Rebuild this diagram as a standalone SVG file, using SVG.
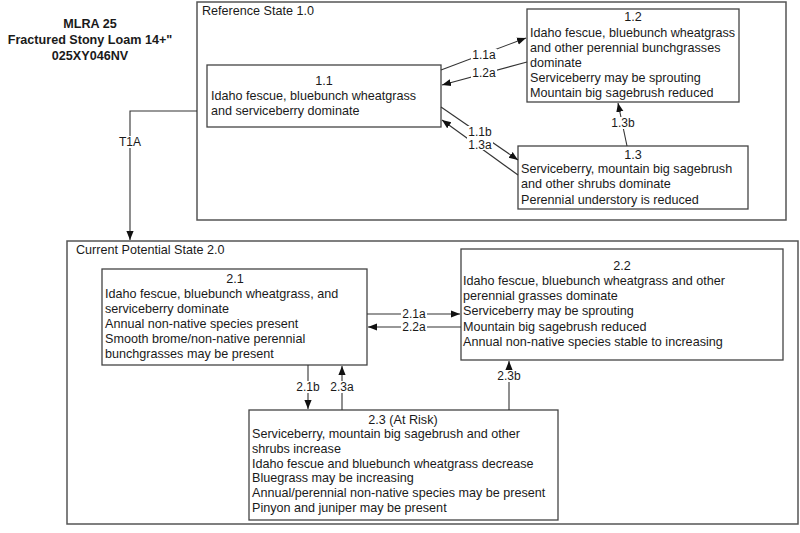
<svg xmlns="http://www.w3.org/2000/svg" width="800" height="533" viewBox="0 0 800 533">
<defs>
<marker id="ah" viewBox="0 0 10 10" refX="10" refY="5" markerWidth="9" markerHeight="9" markerUnits="userSpaceOnUse" orient="auto">
<path d="M0,1 L10,5 L0,9 Z" fill="#111"/>
</marker>
<style>
text{font-family:"Liberation Sans",Arial,sans-serif;font-size:12.6px;fill:#1a1a1a}
.hd{font-weight:bold;text-anchor:middle}
.st{fill:#fff;stroke:#555;stroke-width:1.5}
.bx{fill:#fff;stroke:#444;stroke-width:1.3}
.c{text-anchor:middle}
.cn{fill:none;stroke:#333;stroke-width:1.1;marker-end:url(#ah)}
.lb{text-anchor:middle;font-size:12px}
.bg{fill:#fff}
</style>
</defs>
<rect width="800" height="533" fill="#fff"/>
<g id="header">
<text class="hd" x="90" y="28">MLRA 25</text>
<text class="hd" x="90" y="44">Fractured Stony Loam 14+"</text>
<text class="hd" x="90" y="60">025XY046NV</text>
</g>
<g id="state1">
<rect class="st" x="197" y="2" width="589" height="218"/>
<text x="202" y="15">Reference State 1.0</text>
</g>
<g id="state2">
<rect class="st" x="67" y="241" width="731" height="283"/>
<text x="76" y="254">Current Potential State 2.0</text>
</g>
<g id="n11">
<rect class="bx" x="207" y="65" width="234" height="62"/>
<text class="c" x="324" y="85">1.1</text>
<text x="211" y="100">Idaho fescue, bluebunch wheatgrass</text>
<text x="211" y="115">and serviceberry dominate</text>
</g>
<g id="n12">
<rect class="bx" x="527" y="9" width="212" height="93"/>
<text class="c" x="633" y="21">1.2</text>
<text x="530" y="37">Idaho fescue, bluebunch wheatgrass</text>
<text x="530" y="52">and other perennial bunchgrasses</text>
<text x="530" y="67">dominate</text>
<text x="530" y="82">Serviceberry may be sprouting</text>
<text x="530" y="97">Mountain big sagebrush reduced</text>
</g>
<g id="n13">
<rect class="bx" x="518" y="146" width="230" height="63"/>
<text class="c" x="633" y="159">1.3</text>
<text x="521" y="173">Serviceberry, mountain big sagebrush</text>
<text x="521" y="188">and other shrubs dominate</text>
<text x="521" y="204">Perennial understory is reduced</text>
</g>
<g id="n21">
<rect class="bx" x="102" y="269" width="265" height="96"/>
<text class="c" x="235" y="283">2.1</text>
<text x="105" y="298">Idaho fescue, bluebunch wheatgrass, and</text>
<text x="105" y="313">serviceberry dominate</text>
<text x="105" y="328">Annual non-native species present</text>
<text x="105" y="343">Smooth brome/non-native perennial</text>
<text x="105" y="358">bunchgrasses may be present</text>
</g>
<g id="n22">
<rect class="bx" x="461" y="249" width="322" height="111"/>
<text class="c" x="622" y="270">2.2</text>
<text x="463" y="285">Idaho fescue, bluebunch wheatgrass and other</text>
<text x="463" y="300">perennial grasses dominate</text>
<text x="463" y="315">Serviceberry may be sprouting</text>
<text x="463" y="331">Mountain big sagebrush reduced</text>
<text x="463" y="346">Annual non-native species stable to increasing</text>
</g>
<g id="n23">
<rect class="bx" x="249" y="410" width="309" height="110"/>
<text class="c" x="403" y="424">2.3 (At Risk)</text>
<text x="252" y="438">Serviceberry, mountain big sagebrush and other</text>
<text x="252" y="453">shrubs increase</text>
<text x="252" y="468">Idaho fescue and bluebunch wheatgrass decrease</text>
<text x="252" y="482">Bluegrass may be increasing</text>
<text x="252" y="497">Annual/perennial non-native species may be present</text>
<text x="252" y="512">Pinyon and juniper may be present</text>
</g>
<g id="connectors">
<path class="cn" d="M441,70 L526,38"/>
<path class="cn" d="M527,62 L442,85"/>
<path class="cn" d="M441,107 L518,160"/>
<path class="cn" d="M518,175 L442,120"/>
<path class="cn" d="M627,146 L618,103"/>
<path class="cn" d="M197,111 L130,111 L130,240"/>
<path class="cn" d="M367,314 L460,314"/>
<path class="cn" d="M461,327 L368,327"/>
<path class="cn" d="M308,365 L308,409"/>
<path class="cn" d="M342,410 L342,366"/>
<path class="cn" d="M509,410 L509,361"/>
<rect class="bg" x="471" y="49" width="26" height="12"/>
<rect class="bg" x="471" y="67" width="26" height="12"/>
<rect class="bg" x="467" y="126" width="26" height="24"/>
<rect class="bg" x="610" y="117" width="26" height="12"/>
<rect class="bg" x="118" y="136" width="24" height="12"/>
<rect class="bg" x="401" y="309" width="26" height="24"/>
<rect class="bg" x="296" y="381" width="24" height="12"/>
<rect class="bg" x="330" y="381" width="24" height="12"/>
<rect class="bg" x="497" y="370" width="24" height="12"/>
<text class="lb" x="484" y="59">1.1a</text>
<text class="lb" x="484" y="77">1.2a</text>
<text class="lb" x="480" y="136">1.1b</text>
<text class="lb" x="480" y="149">1.3a</text>
<text class="lb" x="623" y="127">1.3b</text>
<text class="lb" x="130" y="146">T1A</text>
<text class="lb" x="414" y="318">2.1a</text>
<text class="lb" x="414" y="331">2.2a</text>
<text class="lb" x="308" y="391">2.1b</text>
<text class="lb" x="342" y="391">2.3a</text>
<text class="lb" x="509" y="380">2.3b</text>
</g>
</svg>
